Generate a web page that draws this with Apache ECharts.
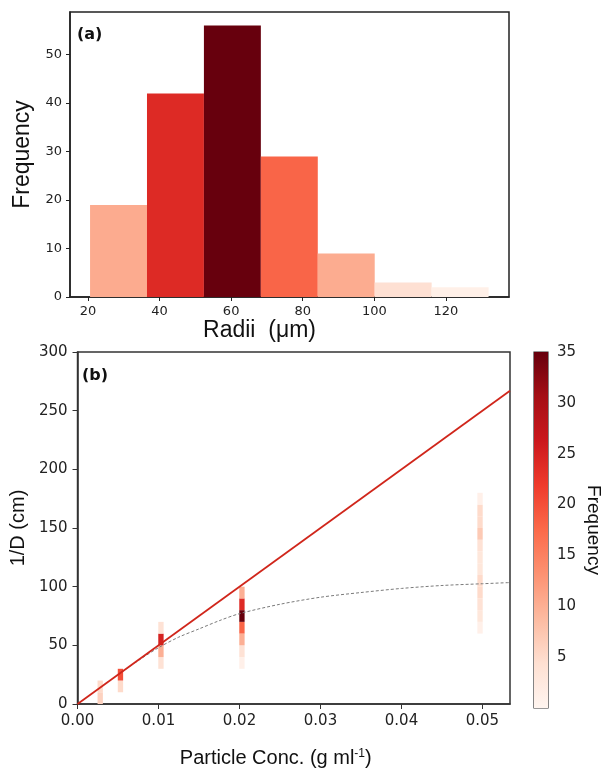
<!DOCTYPE html>
<html><head><meta charset="utf-8">
<script src="https://cdn.jsdelivr.net/npm/echarts@6/dist/echarts.min.js"></script>
<style>html,body{margin:0;padding:0;background:#fff}#c{width:604px;height:769px}</style>
</head><body><div id="c"></div>
<script>
// ---- Panel (a): radius histogram ----
const binEdges = [20.6, 36.5, 52.4, 68.3, 84.2, 100.1, 116.0, 131.9];
const binCounts = [19, 42, 56, 29, 9, 3, 2];
const histColors = ['#fcab8f', '#dd2a25', '#67000d', '#f96548', '#fcac90', '#fee0d3', '#fff0e8'];
const radiiTicks = [20, 40, 60, 80, 100, 120];
const freqTicks = [0, 10, 20, 30, 40, 50];

// ---- Panel (b): 2D histogram cells (column conc., bin lower edge, count) ----
const cellConc = [
  0.0028, 0.0028,
  0.0053, 0.0053,
  0.0103, 0.0103, 0.0103, 0.0103,
  0.0203, 0.0203, 0.0203, 0.0203, 0.0203, 0.0203, 0.0203,
  0.0497, 0.0497, 0.0497, 0.0497, 0.0497, 0.0497, 0.0497, 0.0497, 0.0497, 0.0497, 0.0497, 0.0497
];
const cellLow = [
  0, 10,
  10, 20,
  30, 40, 50, 60,
  30, 40, 50, 60, 70, 80, 90,
  60, 70, 80, 90, 100, 110, 120, 130, 140, 150, 160, 170
];
const cellCount = [
  6, 5,
  5, 20,
  4, 10, 25, 4,
  1, 4, 10, 18, 35, 24, 10,
  1, 3, 4, 5, 5, 3, 3, 4, 7, 5, 5, 1
];
// red straight line
const fitX = [0, 0.0534];
const fitY = [0, 267];
// grey dashed saturating curve
const curveX = [0.005, 0.0075, 0.01, 0.0125, 0.015, 0.0175, 0.02, 0.025, 0.03, 0.035, 0.04, 0.045, 0.05, 0.0534];
const curveY = [25, 37, 48, 57, 64, 71, 77, 85, 91, 95, 98.5, 101, 102.5, 103.5];
const concTicks = [0, 0.01, 0.02, 0.03, 0.04, 0.05];
const invDTicks = [0, 50, 100, 150, 200, 250, 300];
const cbTicks = [5, 10, 15, 20, 25, 30, 35];
const cbRange = [0, 35];

const reds = ['#fff5f0', '#fee0d2', '#fcbba1', '#fc9272', '#fb6a4a', '#ef3b2c', '#cb181d', '#a50f15', '#67000d'];
const binW = 0.00066, binH = 10;

const tickFont = { fontFamily: 'DejaVu Sans', color: '#222' };
const labelFont = { fontFamily: 'Liberation Sans', color: '#111' };

const chart = echarts.init(document.getElementById('c'));
chart.setOption({
  animation: false,
  grid: [
    { left: 70, top: 12, width: 439, height: 285, show: true, borderColor: '#222', borderWidth: 1.5, backgroundColor: 'transparent' },
    { left: 75, top: 352, width: 435, height: 355, show: true, borderColor: '#333', borderWidth: 1.5, backgroundColor: 'transparent' },
    { left: 534, top: 352, width: 17, height: 356, show: true, borderColor: '#333', borderWidth: 1.2, backgroundColor: 'transparent' }
  ],
  xAxis: [
    { gridIndex: 0, type: 'value', min: 15, max: 137.6,
      axisLine: { onZero: false, lineStyle: { color: '#222', width: 1.5 } },
      axisTick: { show: true, length: 4, customValues: radiiTicks, lineStyle: { color: '#222' } },
      axisLabel: Object.assign({ customValues: radiiTicks, fontSize: 13, margin: 8 }, tickFont),
      splitLine: { show: false },
      name: 'Radii  (μm)', nameLocation: 'middle', nameGap: 21,
      nameTextStyle: Object.assign({ fontSize: 23, padding: [0, 60, 0, 0] }, labelFont) },
    { gridIndex: 1, type: 'value', min: 0, max: 0.0534,
      axisLine: { onZero: false, lineStyle: { color: '#333', width: 1.5 } },
      axisTick: { show: true, length: 5, customValues: concTicks, lineStyle: { color: '#333' } },
      axisLabel: Object.assign({ customValues: concTicks, fontSize: 15, margin: 10, formatter: v => v.toFixed(2) }, tickFont),
      splitLine: { show: false },
      name: 'Particle Conc. (g ml{sup|-1})', nameLocation: 'middle', nameGap: 44,
      nameTextStyle: Object.assign({ fontSize: 20, padding: [0, 36, 0, 0],
        rich: { sup: { fontSize: 12, fontFamily: 'Liberation Sans', color: '#111', verticalAlign: 'top' } } }, labelFont) },
    { gridIndex: 2, type: 'value', min: 0, max: 1, show: false }
  ],
  yAxis: [
    { gridIndex: 0, type: 'value', min: 0, max: 58.8,
      axisLine: { show: true, onZero: false, lineStyle: { color: '#222', width: 1.5 } },
      axisTick: { show: true, length: 4, customValues: freqTicks, lineStyle: { color: '#222' } },
      axisLabel: Object.assign({ customValues: freqTicks, fontSize: 13, margin: 8 }, tickFont),
      splitLine: { show: false },
      name: 'Frequency', nameLocation: 'middle', nameGap: 36, nameRotate: 90,
      nameTextStyle: Object.assign({ fontSize: 23 }, labelFont) },
    { gridIndex: 1, type: 'value', min: 0, max: 300,
      axisLine: { show: true, onZero: false, lineStyle: { color: '#333', width: 1.5 } },
      axisTick: { show: true, length: 5, customValues: invDTicks, lineStyle: { color: '#333' } },
      axisLabel: Object.assign({ customValues: invDTicks, fontSize: 15, margin: 10 }, tickFont),
      splitLine: { show: false },
      name: '1/D (cm)', nameLocation: 'middle', nameGap: 43, nameRotate: 90,
      nameTextStyle: Object.assign({ fontSize: 20 }, labelFont) },
    { gridIndex: 2, type: 'value', min: cbRange[0], max: cbRange[1], position: 'right',
      axisLine: { show: false },
      axisTick: { show: true, length: 4, customValues: cbTicks, lineStyle: { color: '#333' } },
      axisLabel: Object.assign({ customValues: cbTicks, fontSize: 15, margin: 9 }, tickFont),
      splitLine: { show: false },
      name: 'Frequency', nameLocation: 'middle', nameGap: 36, nameRotate: -90,
      nameTextStyle: Object.assign({ fontSize: 19 }, labelFont) }
  ],
  visualMap: { show: false, type: 'continuous', min: cbRange[0], max: cbRange[1], dimension: 2, seriesIndex: 1,
    inRange: { color: reds } },
  graphic: [
    { type: 'text', left: 77, top: 27, style: { text: '(a)', font: 'bold 16px "DejaVu Sans"', fill: '#111' } },
    { type: 'text', left: 82, top: 368, style: { text: '(b)', font: 'bold 16px "DejaVu Sans"', fill: '#111' } }
  ],
  series: [
    { type: 'custom', xAxisIndex: 0, yAxisIndex: 0, encode: { x: [0, 1], y: 2 },
      data: binCounts.map((c, i) => [binEdges[i], binEdges[i + 1], c]),
      renderItem: (params, api) => {
        const p0 = api.coord([api.value(0), api.value(2)]);
        const p1 = api.coord([api.value(1), 0]);
        return { type: 'rect', shape: { x: p0[0], y: p0[1], width: p1[0] - p0[0], height: p1[1] - p0[1] },
          style: { fill: histColors[params.dataIndex] } };
      } },
    { type: 'custom', xAxisIndex: 1, yAxisIndex: 1, encode: { x: 0, y: 1 }, z: 2,
      data: cellConc.map((x, i) => [x, cellLow[i], cellCount[i]]),
      renderItem: (params, api) => {
        const x = api.value(0), y = api.value(1);
        const p0 = api.coord([x - binW / 2, y + binH]);
        const p1 = api.coord([x + binW / 2, y]);
        return { type: 'rect', shape: { x: p0[0], y: p0[1], width: p1[0] - p0[0], height: p1[1] - p0[1] },
          style: { fill: api.visual('color') } };
      } },
    { type: 'line', xAxisIndex: 1, yAxisIndex: 1, z: 5, symbol: 'none',
      data: fitX.map((x, i) => [x, fitY[i]]),
      lineStyle: { color: '#d0261b', width: 1.8 } },
    { type: 'line', xAxisIndex: 1, yAxisIndex: 1, z: 4, symbol: 'none', smooth: 0.3,
      data: curveX.map((x, i) => [x, curveY[i]]),
      lineStyle: { color: '#7a7a7a', width: 1, type: [3, 2] } },
    { type: 'custom', xAxisIndex: 2, yAxisIndex: 2, encode: { x: 0, y: [1, 2] }, silent: true,
      data: [[0, cbRange[0], cbRange[1]]],
      renderItem: (params, api) => {
        const p0 = api.coord([0, api.value(2)]);
        const p1 = api.coord([1, api.value(1)]);
        const stops = reds.slice().reverse().map((c, i) => ({ offset: i / (reds.length - 1), color: c }));
        return { type: 'rect', shape: { x: p0[0], y: p0[1], width: p1[0] - p0[0], height: p1[1] - p0[1] },
          style: { fill: new echarts.graphic.LinearGradient(0, 0, 0, 1, stops) } };
      } }
  ]
});
</script></body></html>
